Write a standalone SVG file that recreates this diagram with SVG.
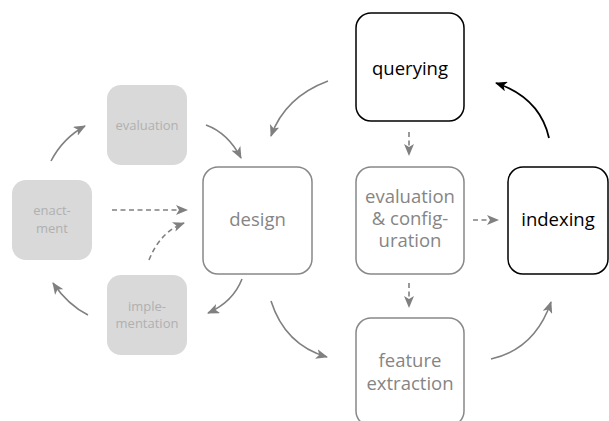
<svg xmlns="http://www.w3.org/2000/svg" width="609" height="421" viewBox="0 0 609 421">
<defs>
<style>
.box{fill:#fff;stroke:#888;stroke-width:1.5}
.dark{fill:#fff;stroke:#000;stroke-width:1.5}
.lite{fill:#d9d9d9;stroke:none}
.t{font-family:"Open Sans","Noto Sans",sans-serif;font-size:18.5px;text-anchor:middle;fill:#858585}
.td{fill:#000}
.ts{font-family:"Open Sans","Noto Sans",sans-serif;font-size:13px;text-anchor:middle;fill:#b0b0b0}
.c{fill:none;stroke:#808080;stroke-width:1.6}
.cd{fill:none;stroke:#000;stroke-width:1.8}
.dash{stroke-dasharray:5 3.5}
</style>
<marker id="ag" viewBox="0 0 12 10" refX="11" refY="5" markerWidth="12" markerHeight="10" markerUnits="userSpaceOnUse" orient="auto">
<path d="M0,0 L12,5 L0,10 L3,5 z" fill="#808080"/>
</marker>
<marker id="ab" viewBox="0 0 12 10" refX="11" refY="5" markerWidth="12" markerHeight="10" markerUnits="userSpaceOnUse" orient="auto">
<path d="M0,0 L12,5 L0,10 L3,5 z" fill="#000"/>
</marker>
</defs>
<rect width="609" height="421" fill="#fff"/>
<g id="evaluation-left"><rect class="lite" x="107" y="85" width="80" height="80" rx="14"/><text class="ts" x="147" y="130">evaluation</text></g>
<g id="enactment"><rect class="lite" x="12" y="180" width="80" height="80" rx="14"/><text class="ts" x="52" y="215">enact-</text><text class="ts" x="52" y="233">ment</text></g>
<g id="implementation"><rect class="lite" x="107" y="275" width="80" height="80" rx="14"/><text class="ts" x="147" y="311">imple-</text><text class="ts" x="147" y="328">mentation</text></g>
<g id="design"><rect class="box" x="203" y="167" width="109" height="107" rx="15"/><text class="t" x="257.5" y="226">design</text></g>
<g id="querying"><rect class="dark" x="356" y="13" width="108" height="108" rx="15"/><text class="t td" x="410" y="75">querying</text></g>
<g id="evalconfig"><rect class="box" x="356" y="167" width="108" height="107" rx="15"/><text class="t" x="410" y="203">evaluation</text><text class="t" x="410" y="225">&amp; config-</text><text class="t" x="410" y="247">uration</text></g>
<g id="indexing"><rect class="dark" x="508" y="167" width="100" height="107" rx="15"/><text class="t td" x="558" y="226">indexing</text></g>
<g id="feature"><rect class="box" x="356" y="318" width="108" height="108" rx="15"/><text class="t" x="410" y="367">feature</text><text class="t" x="410" y="390">extraction</text></g>
<g id="connectors">
<path class="c" d="M328,81 Q285,97 271,136" marker-end="url(#ag)"/>
<path class="c" d="M206,125 Q228,133 241,158" marker-end="url(#ag)"/>
<path class="cd" d="M549,138 Q540,98 496,83" marker-end="url(#ab)"/>
<path class="c dash" d="M409,132 L409,155" marker-end="url(#ag)"/>
<path class="c dash" d="M473,220 L498,220" marker-end="url(#ag)"/>
<path class="c dash" d="M409,283 L409,307" marker-end="url(#ag)"/>
<path class="c" d="M242,279 Q233,302 208,313" marker-end="url(#ag)"/>
<path class="c" d="M271,301 Q285,345 327,357" marker-end="url(#ag)"/>
<path class="c" d="M491,359 Q535,349 551,302" marker-end="url(#ag)"/>
<path class="c" d="M51,161 Q63,138 85,126" marker-end="url(#ag)"/>
<path class="c dash" d="M112,210 L187,210" marker-end="url(#ag)"/>
<path class="c dash" d="M149,260 Q160,232 184,223" marker-end="url(#ag)"/>
<path class="c" d="M88,315 Q68,305 53,283" marker-end="url(#ag)"/>
</g>
</svg>
